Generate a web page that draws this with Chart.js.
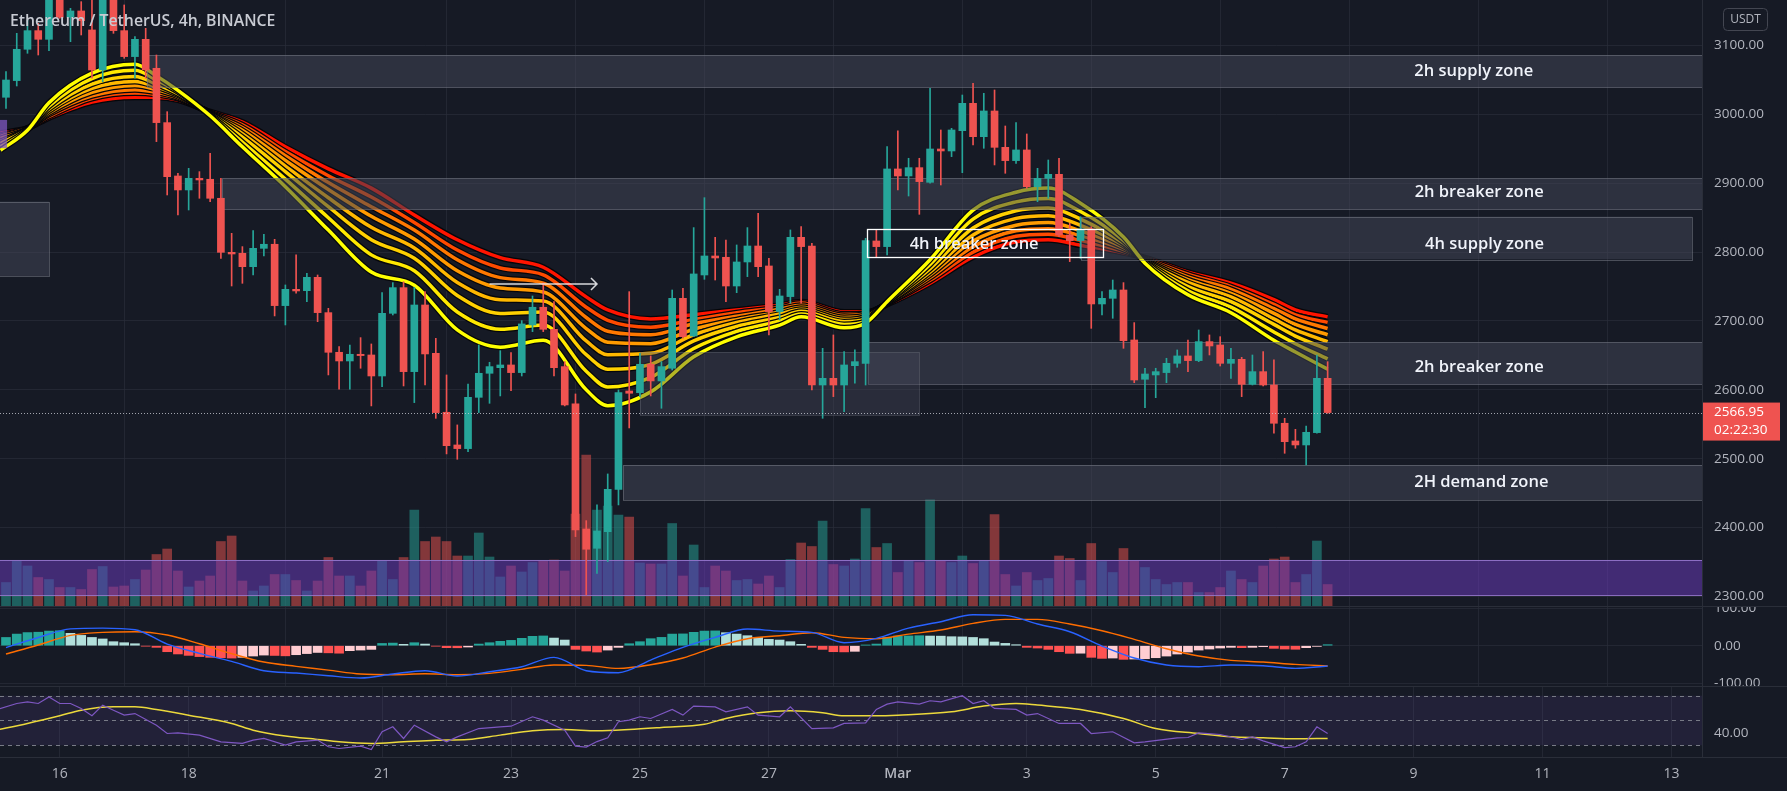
<!DOCTYPE html>
<html>
<head>
<meta charset="utf-8">
<script src="https://cdn.jsdelivr.net/npm/chart.js@4.4.1/dist/chart.umd.min.js"></script>
<style>
  html, body { margin: 0; padding: 0; background: #161a25; }
  #wrap { position: relative; width: 1787px; height: 791px; overflow: hidden; background: #161a25; }
  canvas { position: absolute; left: 0; }
  #title { position: absolute; left: 10px; top: 9px; color: #c8cbd3; font: 600 15.8px "Open Sans", sans-serif; white-space: nowrap; }
  .hl { position: absolute; left: 0; width: 1787px; height: 1px; background: #2a2e39; }
  .vl { position: absolute; left: 1702px; top: 0; width: 1px; height: 757px; background: #2a2e39; }
</style>
</head>
<body>
<div id="wrap">
  <canvas id="price" width="1787" height="606" style="top:0"></canvas>
  <canvas id="macd" width="1787" height="80" style="top:607px"></canvas>
  <canvas id="rsi" width="1787" height="104" style="top:687px"></canvas>
  <div class="hl" style="top:606px"></div>
  <div class="hl" style="top:686px"></div>
  <div class="hl" style="top:757px"></div>
  <div class="vl"></div>
  <div id="title">Ethereum / TetherUS, 4h, BINANCE</div>
</div>
<script>
// ETH/USDT 4h candles, Feb 15 04:00 -> Mar 7 16:00 (index = candle number)
const CANDLE_OPEN = [3024.9,3049.1,3094.6,3121.7,3109.1,3178,3141.0,3150.3,3122.7,3064.6,
  3180,3121.7,3084.0,3109.1,3067.0,2988.1,2910.6,2890.3,2907.2,2905.8,
  2878.2,2799.7,2798.3,2778.9,2805.5,2811.4,2722.3,2746.0,2744.0,2763.4,
  2712.1,2654.5,2641.9,2651.6,2650.6,2620.1,2711.1,2748.4,2626.4,2723.2,
  2653.0,2567.4,2519.9,2514.6,2589.1,2624.0,2632.2,2636.1,2625.0,2694.2,
  2719.9,2687.9,2633.7,2579.5,2397.9,2369.8,2394.0,2455.5,2598.3,2595.9,
  2637.1,2612.9,2631.3,2732.9,2678.2,2766.8,2794.4,2792.5,2750.8,2785.7,
  2808.9,2779.9,2713.6,2735.4,2821.5,2808.9,2607.0,2616.7,2607.0,2635.1,
  2638.5,2816.2,2808.0,2920.8,2910.6,2922.7,2901.4,2949.8,2946.9,2976.4,
  3016.1,2967.7,3005.0,2952.2,2932.9,2948.4,2895.1,2907.2,2913.0,2824.9,
  2816.7,2833.6,2724.7,2732.9,2745.0,2672.4,2615.3,2621.6,2625.0,2638.5,
  2649.2,2642.4,2670.0,2665.1,2638.5,2644.3,2608.0,2626.4,2607.0,2551.4,
  2525.7,2519.9,2537.8,2616.7];
const CANDLE_HIGH = [3062.1,3117.8,3137.2,3132.3,3190,3195,3154.1,3163.8,3168,3200,
  3190,3159.0,3113.0,3125.1,3086.3,3004.0,2914.5,2921.7,2916.9,2943.5,
  2907.2,2827.3,2808.0,2831.2,2825.9,2818.6,2752.3,2795.9,2769.2,2766.8,
  2718.4,2662.7,2665.1,2675.8,2666.6,2741.2,2755.7,2757.0,2748.9,2742.6,
  2674.8,2621.6,2549.0,2608.5,2665.1,2640.0,2656.9,2654.0,2700.5,2736.3,
  2755.7,2728.1,2641.0,2594.0,2410.0,2432.8,2477.8,2599.8,2742.6,2653.0,
  2649.2,2641.0,2745.0,2747.5,2835.6,2879.1,2821.5,2817.6,2810.4,2835.6,
  2856.4,2791.0,2746.0,2832.2,2837.0,2812.8,2660.3,2679.7,2655.5,2657.9,
  2820.1,2832.2,2953.2,2976.0,2936.3,2936.3,3037.9,2977.4,2979.8,3028.2,
  3045.2,3030.7,3035.5,2983.2,2988.1,2971.6,2921.7,2933.8,2936.3,2841.9,
  2851.5,2837.0,2742.6,2759.5,2755.7,2697.6,2631.3,2631.3,2645.8,2657.9,
  2672.4,2686.9,2679.7,2677.2,2660.3,2647.2,2650.6,2655.5,2643.4,2558.6,
  2542.6,2547.5,2650.6,2640.9];
const CANDLE_LOW = [3008.9,3041.3,3088.8,3086.3,3092.6,3139.6,3105.7,3115.4,3052.5,3047.6,
  3117.8,3081.5,3052.5,3052.5,2960.5,2883.0,2854.0,2861.2,2878.2,2873.3,
  2791.0,2750.8,2754.7,2766.8,2794.4,2707.3,2694.2,2740.2,2728.1,2699.0,
  2621.6,2600.8,2600.8,2631.3,2576.6,2604.6,2708.7,2605.6,2581.4,2607.1,
  2558.6,2506.9,2499.1,2510.0,2566.9,2580.4,2591.1,2598.8,2620.1,2684.5,
  2684.5,2620.1,2576.6,2386.8,2302.0,2333.5,2350.5,2432.8,2544.6,2590.1,
  2591.1,2573.2,2628.8,2675.0,2677.2,2760.5,2759.5,2728.1,2741.1,2764.4,
  2764.4,2679.7,2701.5,2725.7,2725.7,2599.8,2558.6,2590.1,2568.3,2609.5,
  2607.0,2792.5,2795.9,2890.3,2881.5,2854.9,2900.0,2897.5,2938.7,2915.4,
  2955.6,2950.8,2926.6,2914.5,2929.0,2892.7,2873.3,2878.2,2822.5,2786.2,
  2791.0,2689.3,2708.7,2703.9,2660.3,2610.4,2574.1,2588.6,2610.4,2632.7,
  2626.4,2640.9,2650.6,2634.6,2616.7,2590.1,2607.0,2605.6,2536.9,2507.8,
  2515.1,2490.8,2536.9,2565.9];
const CANDLE_CLOSE = [3050.0,3094.6,3121.7,3109.1,3178,3141.0,3150.3,3136.2,3064.6,3180,
  3121.7,3084.0,3109.1,3064.6,2988.1,2909.6,2890.3,2907.2,2904.8,2878.2,
  2799.7,2797.3,2778.9,2805.5,2811.4,2722.3,2746.0,2743.6,2763.4,2712.1,
  2654.5,2641.9,2651.6,2649.7,2620.1,2711.1,2748.4,2626.4,2723.2,2652.1,
  2566.9,2518.9,2514.6,2589.1,2624.0,2633.7,2636.1,2625.0,2695.7,2719.9,
  2687.9,2632.2,2578.0,2396.5,2368.4,2395.0,2455.5,2595.9,2595.0,2637.1,
  2612.9,2633.7,2732.9,2677.2,2768.3,2794.4,2791.5,2750.8,2785.7,2808.9,
  2778.9,2713.6,2736.3,2821.5,2808.0,2607.0,2616.7,2607.0,2636.1,2640.9,
  2816.7,2808.0,2920.8,2910.6,2922.7,2902.4,2949.8,2946.9,2977.4,3016.1,
  2967.7,3005.0,2952.2,2932.9,2948.4,2895.1,2907.2,2913.0,2824.9,2816.7,
  2833.6,2724.7,2732.9,2745.0,2671.4,2614.3,2623.0,2626.4,2638.5,2649.2,
  2642.4,2670.0,2663.7,2638.5,2644.3,2608.0,2626.4,2607.0,2551.4,2524.7,
  2519.9,2538.3,2616.7,2566.95];
// volume, thousand ETH
const VOLUME = [47,90,80,57,53,37,37,33,73,79, 38,40,53,72,103,114,70,38,50,60,
  129,140,50,30,40,63,63,51,30,50, 97,60,60,40,70,90,53,97,192,129,
  138,129,100,100,146,98,58,80,68,87, 90,92,70,184,302,192,200,182,178,86,
  84,84,165,60,122,37,80,70,51,53, 44,60,37,93,126,119,170,83,80,94,
  195,117,125,67,91,87,213,90,87,100, 85,90,183,63,40,67,51,55,100,95,
  51,125,89,67,115,90,77,53,43,47, 47,27,27,37,70,53,47,80,94,98,
  47,63,130,43];

// EMA ribbon, fast (yellow) -> slow (red), sampled at these candles
const EMA_K = [-0.5,2,4,8,12,14,16,19,22,26,30,34,38,42,46,50,54,56,60,64,68,72,74,78,80,82,86,90,94,97,100,104,106,110,114,118,120,123];
const EMA_1 = [2948,2977,3017,3060,3073,3056,3035,2998,2953,2895,2832,2771,2752,2687,2662,2672,2600,2577,2597,2648,2677,2694,2706,2690,2697,2728,2789,2861,2887,2893,2871,2822,2784,2738,2712,2672,2655,2630];
const EMA_2 = [2953,2978,3012,3052,3064,3050,3033,2999,2960,2906,2850,2796,2773,2713,2688,2694,2627,2604,2618,2660,2685,2700,2710,2695,2700,2727,2782,2848,2873,2878,2859,2817,2786,2744,2720,2684,2667,2645];
const EMA_3 = [2958,2979,3008,3044,3055,3044,3030,3000,2967,2917,2866,2818,2791,2737,2711,2713,2651,2630,2637,2671,2692,2705,2714,2699,2703,2727,2776,2835,2860,2864,2848,2813,2787,2750,2728,2695,2678,2659];
const EMA_4 = [2961,2979,3005,3038,3048,3040,3028,3001,2972,2925,2879,2836,2806,2756,2731,2729,2671,2651,2653,2680,2698,2710,2717,2702,2706,2726,2771,2825,2849,2853,2839,2810,2788,2756,2735,2703,2687,2670];
const EMA_5 = [2965,2979,3002,3032,3042,3036,3026,3001,2977,2933,2891,2852,2819,2773,2748,2742,2689,2669,2667,2688,2702,2713,2720,2705,2708,2726,2767,2816,2839,2843,2831,2807,2789,2760,2740,2711,2695,2680];
const EMA_6 = [2968,2980,3000,3027,3036,3032,3024,3002,2981,2940,2901,2866,2832,2789,2763,2755,2705,2685,2680,2696,2707,2717,2723,2708,2710,2725,2763,2808,2831,2834,2824,2804,2790,2764,2746,2718,2703,2689];
const EMA_7 = [2970,2980,2997,3023,3031,3029,3023,3003,2985,2946,2911,2880,2843,2803,2777,2767,2720,2701,2691,2702,2712,2720,2726,2710,2711,2725,2759,2800,2823,2826,2817,2801,2791,2768,2750,2724,2709,2698];
const EMA_8 = [2973,2980,2995,3018,3025,3025,3021,3004,2989,2953,2921,2893,2854,2818,2792,2778,2735,2716,2703,2709,2716,2723,2728,2713,2713,2724,2755,2793,2815,2818,2810,2799,2792,2771,2755,2731,2716,2706];

// MACD (12,26,9)
const MACD_HIST = [22,31,35,36,39,40,33,27.5,22,18, 10.7,8,5.3,-1,-4.4,-16,-22,-25.8,-29,-31,
  -32,-33,-31,-27.5,-25,-26,-27,-24,-21,-18, -19,-20,-13.3,-11.6,-9.8,6,7,3.6,8,4.4,
  -1,-5.3,-5.5,-3.5,4.4,8,11.6,14.2,19.6,25, 26,20.4,15.1,-9.8,-14.2,-16.9,-11.6,-4.4,5.3,10.7,
  18.7,22.2,31,31.5,35.6,39,39.5,34.7,31,26.7, 22.2,16.9,15.1,10.7,3.6,-4.4,-9.8,-16,-16.5,-15,
  2,4.4,22.2,25.8,26,26.7,25.8,25.5,24,23.5, 22,18.7,9.8,6.2,2.7,-4.4,-6.2,-9.8,-16,-20.4,
  -20,-31,-33.8,-32.9,-36.4,-35.6,-34.7,-32,-27.6,-22.2, -16.9,-11.6,-8.9,-6.2,-4.4,-5.3,-4.4,-2.7,-7.1,-8.9,
  -9.5,-5.3,-1.8,2.7];
const MACD_K = [0,3,6,9,12,15,18,21,24,27,30,33,36,39,42,45,48,51,54,57,60,63,66,69,72,75,78,81,84,87,90,93,96,99,102,105,108,111,114,117,120,123];
const MACD_LINE = [-5,22,45,47,42.7,4.4,-20.4,-41.8,-66.7,-72.9,-80,-86.2,-75.6,-66.7,-80.9,-69.3,-56,-31,-66.7,-72,-38.2,-4.4,22.2,44.4,39,35.6,8,19.6,47,64,82.7,81,57.8,37.3,-0.9,-32.9,-51.6,-56,-51.6,-53.3,-60.4,-54.2];
const SIGNAL_LINE = [-22,1.8,27.6,35.6,37.3,28.4,5.3,-21.3,-43.6,-55,-65,-75.6,-77.3,-74.7,-77.3,-73.8,-63,-51.6,-52.4,-60.4,-50.7,-32.9,-3.6,18.7,26.7,34.7,22.2,18.7,31,41.8,59.6,70.2,70.2,57.8,40,16.9,-8,-27.6,-39.1,-43.6,-49.8,-54.2];

// RSI (14) and its moving average
const RSI_K = [-1,1,2,3,4,5,6,7,8,9,10,11,12,14,15,16,18,20,22,23,24,26,27,29,30,31,33,34,35,36,37,38,40,41,42,44,46,47,49,50,52,53,54,55,56,57,58,59,60,62,63,64,66,67,69,70,72,73,75,77,78,80,81,82,83,85,86,87,89,90,91,92,94,95,96,98,100,101,103,105,106,109,110,111,113,115,116,117,119,120,121,122,123];
const RSI_VAL = [58.3,63.7,65.0,63.7,69.0,63.7,63.7,59.7,53.8,62.4,58.3,54.3,55.6,46.2,39.5,40.0,38.2,32.8,31.5,34.2,35.5,30.1,32.8,34.2,28.8,27.4,29.3,26.6,40.9,44.9,35.5,46.2,36.8,32.8,36.8,43.5,44.9,45.4,53.0,50.3,42.2,29.3,28.5,33.0,36.0,49.0,50.3,53.0,51.6,58.9,54.3,61.6,61.0,57.0,61.0,54.3,53.0,61.0,43.5,44.0,47.6,48.1,58.9,63.2,65.0,63.2,65.9,65.0,70.0,63.7,65.9,59.7,58.9,54.3,55.6,47.6,47.6,39.5,40.9,32.0,32.8,36.0,36.3,40.0,38.7,34.7,36.8,33.6,28.2,28.8,32.8,44.9,39.5];
const RSI_MA_K = [-1,2,5,7,10,12,14,17,21,23,26,29,31,34,37,40,43,46,49,52,55,58,61,65,67,70,73,76,78,81,83,88,91,94,96,100,104,107,111,114,117,120,123];
const RSI_MA = [42.2,47.6,53.8,58.3,61.0,61.0,58.9,54.3,47.6,42.2,37.4,34.7,32.8,31.5,32.8,34.1,34.7,38.2,41.7,42.7,41.7,42.7,44.4,47.0,51.6,56.2,57.8,56.2,53.8,53.8,54.3,57.0,61.6,63.7,62.4,58.9,51.6,43.5,39.5,36.8,36.0,35.2,35.5];
const RSI_LEVELS = [70, 50, 30];

// axes
const PRICE_TICKS = [2300, 2400, 2500, 2600, 2700, 2800, 2900, 3000, 3100];
const MACD_TICKS = [100, 0, -100];
const RSI_TICKS = [40];
const DATE_TICKS = [5, 17, 35, 47, 59, 71, 83, 95, 107, 119, 131, 143, 155];
const DATE_LABELS = ['16', '18', '21', '23', '25', '27', 'Mar', '3', '5', '7', '9', '11', '13'];
const LAST_PRICE = 2566.95;
const COUNTDOWN = '02:22:30';

// drawings: zones (candle index range, price range)
const ZONE_START = [13.1, 20.1, 100.0, 80.2, 59.0, 57.45, -1, -1, -1, 80.1];
const ZONE_END = [null, null, 156.9, null, 85.0, null, 4.0, 0.1, null, 102.1];
const ZONE_TOP = [3086.3, 2907.2, 2851.5, 2669.0, 2654.5, 2490.8, 2873.3, 2992, 2352.9, 2833.6];
const ZONE_BOTTOM = [3039.4, 2862.2, 2789.6, 2608.0, 2563.5, 2440.0, 2765.4, 2951, 2302.0, 2792.5];
const ZONE_KIND = ['zone', 'zone', 'zone', 'zone', 'faint', 'zone', 'zone', 'purple', 'band', 'outline'];
const LABEL_TEXT = ['2h supply zone', '2h breaker zone', '4h supply zone', '4h breaker zone', '2h breaker zone', '2H demand zone'];
const LABEL_K = [136.6, 137.1, 137.6, 90.1, 137.1, 137.3];
const LABEL_PRICE = [3063.1, 2887.3, 2811.8, 2811.8, 2633.2, 2465.1];
const ARROW_K = [45.0, 55.0];
const ARROW_PRICE = 2753.7;

const UP = '#26a69a';
const DOWN = '#ef5350';
const GRID = 'rgba(42,46,57,0.7)';
const AXIS_TEXT = '#b2b5be';
const FONT = '"Open Sans", sans-serif';
const X_MIN = -0.558;
const X_MAX = 157.84;
const EMA_COLORS = ['#ffff00', '#ffe800', '#ffd000', '#ffb800', '#ff9a00', '#ff7800', '#ff4a00', '#ff1400'];
const ZONE_STYLE = {
    zone: { fill: 'rgba(66,69,86,0.55)', stroke: 'rgba(120,123,134,0.55)' },
    faint: { fill: 'rgba(70,73,90,0.4)', stroke: 'rgba(120,123,134,0.35)' },
    purple: { fill: 'rgba(126,87,194,0.75)', stroke: 'rgba(0,0,0,0)' },
    band: { fill: 'rgba(103,58,183,0.55)', stroke: 'rgba(149,117,205,0.9)' },
};

Chart.defaults.font.family = FONT;

const candleIdx = CANDLE_OPEN.map((_, i) => i);
const isUp = (i) => CANDLE_CLOSE[i] >= CANDLE_OPEN[i];

function xAxis(showLabels) {
    return {
        type: 'linear',
        min: X_MIN,
        max: X_MAX,
        offset: false,
        afterBuildTicks: (s) => { s.ticks = DATE_TICKS.map((v) => ({ value: v })); },
        grid: { color: GRID, drawTicks: false },
        border: { display: false },
        ticks: {
            display: showLabels,
            autoSkip: false,
            maxRotation: 0,
            padding: 9,
            color: AXIS_TEXT,
            font: (c) => ({ size: 14, weight: c.tick && c.tick.label === 'Mar' ? '600' : '400' }),
            callback: (v, i) => DATE_LABELS[i],
        },
        afterFit: (s) => {
            s.height = showLabels ? 34 : 0;
            s.paddingLeft = 0;
            s.paddingRight = 0;
        },
    };
}

function yAxis(min, max, ticks, showGrid) {
    return {
        position: 'right',
        min,
        max,
        afterBuildTicks: (s) => { s.ticks = ticks.map((v) => ({ value: v })); },
        grid: { display: showGrid, color: GRID, drawTicks: false },
        border: { display: false },
        ticks: { color: AXIS_TEXT, padding: 12, font: { size: 13.5 }, callback: (v) => v.toFixed(2) },
        afterFit: (s) => {
            s.width = 85;
            s.paddingTop = 0;
            s.paddingBottom = 0;
        },
    };
}

const baseOptions = {
    responsive: false,
    maintainAspectRatio: false,
    animation: false,
    layout: { padding: 0 },
    plugins: { legend: { display: false }, tooltip: { enabled: false } },
};

// ---------- price pane ----------
const drawingsPlugin = {
    id: 'drawings',
    beforeDatasetDraw(chart, args) {
        if (chart.data.datasets[args.index].label !== 'wick') {
            return;
        }
        const { ctx, chartArea: a, scales: { x, y } } = chart;
        ctx.save();
        ctx.beginPath();
        ctx.rect(a.left, a.top, a.width, a.height);
        ctx.clip();
        ZONE_KIND.forEach((kind, i) => {
            if (kind === 'outline') {
                return;
            }
            const x1 = x.getPixelForValue(ZONE_START[i]);
            const x2 = ZONE_END[i] === null ? a.right : x.getPixelForValue(ZONE_END[i]);
            const y1 = y.getPixelForValue(ZONE_TOP[i]);
            const y2 = y.getPixelForValue(ZONE_BOTTOM[i]);
            ctx.fillStyle = ZONE_STYLE[kind].fill;
            ctx.fillRect(x1, y1, x2 - x1, y2 - y1);
            ctx.strokeStyle = ZONE_STYLE[kind].stroke;
            ctx.lineWidth = 1;
            ctx.strokeRect(Math.round(x1) + 0.5, Math.round(y1) + 0.5, Math.round(x2 - x1), Math.round(y2 - y1));
        });
        ctx.restore();
    },
    afterDatasetsDraw(chart) {
        const { ctx, chartArea: a, scales: { x, y } } = chart;
        ctx.save();
        ctx.beginPath();
        ctx.rect(a.left, a.top, a.width, a.height);
        ctx.clip();

        // last price line
        const py = Math.round(y.getPixelForValue(LAST_PRICE)) + 0.5;
        ctx.strokeStyle = 'rgba(210,212,220,0.75)';
        ctx.lineWidth = 1;
        ctx.setLineDash([1, 2]);
        ctx.beginPath();
        ctx.moveTo(a.left, py);
        ctx.lineTo(a.right, py);
        ctx.stroke();
        ctx.setLineDash([]);

        // outlined 4h breaker box
        ZONE_KIND.forEach((kind, i) => {
            if (kind !== 'outline') {
                return;
            }
            const x1 = x.getPixelForValue(ZONE_START[i]);
            const x2 = x.getPixelForValue(ZONE_END[i]);
            const y1 = y.getPixelForValue(ZONE_TOP[i]);
            const y2 = y.getPixelForValue(ZONE_BOTTOM[i]);
            ctx.strokeStyle = '#ffffff';
            ctx.lineWidth = 1.3;
            ctx.strokeRect(Math.round(x1) + 0.5, Math.round(y1) + 0.5, Math.round(x2 - x1), Math.round(y2 - y1));
        });

        // arrow
        const ax1 = x.getPixelForValue(ARROW_K[0]);
        const ax2 = x.getPixelForValue(ARROW_K[1]);
        const ay = y.getPixelForValue(ARROW_PRICE);
        ctx.strokeStyle = 'rgba(235,236,240,0.9)';
        ctx.lineWidth = 1.5;
        ctx.beginPath();
        ctx.moveTo(ax1, ay);
        ctx.lineTo(ax2, ay);
        ctx.moveTo(ax2 - 6, ay - 6);
        ctx.lineTo(ax2, ay);
        ctx.lineTo(ax2 - 6, ay + 6);
        ctx.stroke();

        // zone labels
        ctx.fillStyle = '#f0f3fa';
        ctx.font = '600 16.5px ' + FONT;
        ctx.textAlign = 'center';
        ctx.textBaseline = 'middle';
        LABEL_TEXT.forEach((t, i) => {
            ctx.fillText(t, x.getPixelForValue(LABEL_K[i]), y.getPixelForValue(LABEL_PRICE[i]));
        });
        ctx.restore();
    },
    afterDraw(chart) {
        const { ctx, chartArea: a, scales: { y } } = chart;
        const py = y.getPixelForValue(LAST_PRICE);
        ctx.save();
        ctx.fillStyle = DOWN;
        ctx.fillRect(a.right, py - 10, 78, 38);
        ctx.fillStyle = '#ffffff';
        ctx.font = '13.5px ' + FONT;
        ctx.textAlign = 'left';
        ctx.textBaseline = 'middle';
        ctx.fillText(LAST_PRICE.toFixed(2), a.right + 12, py);
        ctx.fillText(COUNTDOWN, a.right + 12, py + 18);

        // currency tag
        ctx.strokeStyle = '#434651';
        ctx.lineWidth = 1;
        ctx.beginPath();
        ctx.roundRect(1723.5, 8.5, 44, 22, 4);
        ctx.stroke();
        ctx.fillStyle = AXIS_TEXT;
        ctx.font = '12px ' + FONT;
        ctx.textAlign = 'center';
        ctx.fillText('USDT', 1745.5, 20);
        ctx.restore();
    },
};

const emaSets = [];
[EMA_1, EMA_2, EMA_3, EMA_4, EMA_5, EMA_6, EMA_7, EMA_8].forEach((vals, i) => {
    const pts = EMA_K.map((k, j) => ({ x: k, y: vals[j] }));
    emaSets.push({
        type: 'line', label: 'ema-edge', data: pts, borderColor: '#05060a', borderWidth: 6,
        pointRadius: 0, cubicInterpolationMode: 'monotone', order: 36 + 2 * i,
    });
    emaSets.push({
        type: 'line', label: 'ema', data: pts, borderColor: EMA_COLORS[i], borderWidth: 3.5,
        pointRadius: 0, cubicInterpolationMode: 'monotone', order: 35 + 2 * i,
    });
});

new Chart(document.getElementById('price'), {
    type: 'bar',
    data: {
        datasets: [
            {
                label: 'volume',
                yAxisID: 'vol',
                data: candleIdx.map((i) => ({ x: i, y: VOLUME[i] })),
                backgroundColor: candleIdx.map((i) => (isUp(i) ? 'rgba(38,166,154,0.5)' : 'rgba(239,83,80,0.5)')),
                barThickness: 9,
                grouped: false,
                order: 60,
            },
            ...emaSets,
            {
                label: 'wick',
                data: candleIdx.map((i) => ({ x: i, y: [CANDLE_LOW[i], CANDLE_HIGH[i]] })),
                backgroundColor: candleIdx.map((i) => (isUp(i) ? UP : DOWN)),
                barThickness: 1,
                grouped: false,
                order: 2,
            },
            {
                label: 'body',
                data: candleIdx.map((i) => ({ x: i, y: [CANDLE_OPEN[i], CANDLE_CLOSE[i]] })),
                backgroundColor: candleIdx.map((i) => (isUp(i) ? UP : DOWN)),
                barThickness: 7,
                minBarLength: 1,
                grouped: false,
                order: 1,
            },
        ],
    },
    options: {
        ...baseOptions,
        scales: {
            x: xAxis(false),
            y: yAxis(2286.0, 3166.2, PRICE_TICKS, true),
            vol: { display: false, min: 0, max: 1212 },
        },
    },
    plugins: [drawingsPlugin],
});

// ---------- MACD pane ----------
const histColors = MACD_HIST.map((v, i) => {
    const prev = i ? MACD_HIST[i - 1] : v;
    if (v >= 0) {
        return v >= prev ? '#26a69a' : '#b2dfdb';
    }
    return v <= prev ? '#ff5252' : '#ffcdd2';
});

new Chart(document.getElementById('macd'), {
    type: 'bar',
    data: {
        datasets: [
            {
                label: 'hist',
                data: candleIdx.map((i) => ({ x: i, y: MACD_HIST[i] })),
                backgroundColor: histColors,
                barThickness: 9,
                grouped: false,
                order: 3,
            },
            {
                type: 'line', label: 'signal',
                data: MACD_K.map((k, j) => ({ x: k, y: SIGNAL_LINE[j] })),
                borderColor: '#ff6d00', borderWidth: 1.4, pointRadius: 0,
                cubicInterpolationMode: 'monotone', order: 2,
            },
            {
                type: 'line', label: 'macd',
                data: MACD_K.map((k, j) => ({ x: k, y: MACD_LINE[j] })),
                borderColor: '#2962ff', borderWidth: 1.4, pointRadius: 0,
                cubicInterpolationMode: 'monotone', order: 1,
            },
        ],
    },
    options: {
        ...baseOptions,
        scales: {
            x: xAxis(false),
            y: yAxis(-110.1, 103.2, MACD_TICKS, true),
        },
    },
});

// ---------- RSI pane ----------
const rsiBandPlugin = {
    id: 'rsiBand',
    beforeDatasetsDraw(chart) {
        const { ctx, chartArea: a, scales: { y } } = chart;
        const top = y.getPixelForValue(RSI_LEVELS[0]);
        const bottom = y.getPixelForValue(RSI_LEVELS[RSI_LEVELS.length - 1]);
        ctx.save();
        ctx.fillStyle = 'rgba(126,87,194,0.12)';
        ctx.fillRect(a.left, top, a.width, bottom - top);
        ctx.strokeStyle = '#787b86';
        ctx.lineWidth = 1;
        ctx.setLineDash([4, 4]);
        RSI_LEVELS.forEach((v) => {
            const py = Math.round(y.getPixelForValue(v)) + 0.5;
            ctx.beginPath();
            ctx.moveTo(a.left, py);
            ctx.lineTo(a.right, py);
            ctx.stroke();
        });
        ctx.restore();
    },
};

new Chart(document.getElementById('rsi'), {
    type: 'line',
    data: {
        datasets: [
            {
                label: 'rsi-ma',
                data: RSI_MA_K.map((k, j) => ({ x: k, y: RSI_MA[j] })),
                borderColor: '#ecd93c', borderWidth: 1.5, pointRadius: 0,
                cubicInterpolationMode: 'monotone', order: 2,
            },
            {
                label: 'rsi',
                data: RSI_K.map((k, j) => ({ x: k, y: RSI_VAL[j] })),
                borderColor: '#7e57c2', borderWidth: 1.2, pointRadius: 0, tension: 0, order: 1,
            },
        ],
    },
    options: {
        ...baseOptions,
        scales: {
            x: xAxis(true),
            y: yAxis(20.56, 77.0, RSI_TICKS, false),
        },
    },
    plugins: [rsiBandPlugin],
});
</script>
</body>
</html>
